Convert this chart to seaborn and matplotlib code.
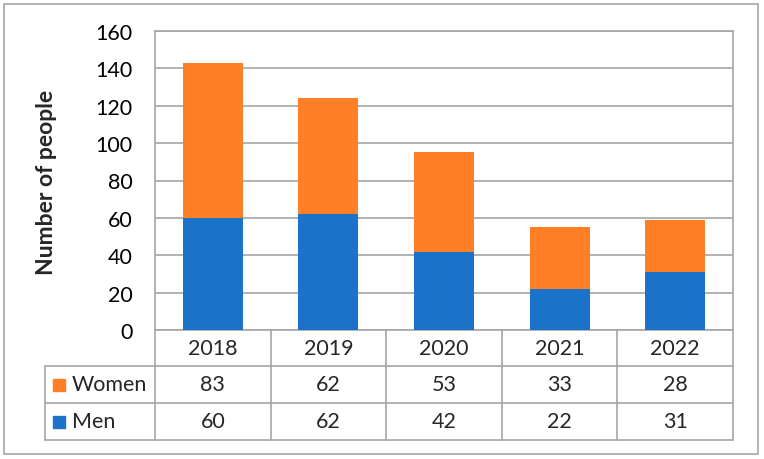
''' Stacked bar chart of men / women per year with a data table below '''
import matplotlib.pyplot as plt
import matplotlib.transforms as mtransforms
from matplotlib.lines import Line2D
from matplotlib.patches import Rectangle
import pandas as pd
import seaborn as sns

#%% Data
years = ['2018', '2019', '2020', '2021', '2022']
women = [83, 62, 53, 33, 28]
men = [60, 62, 42, 22, 31]

ORANGE = '#FF7F27'
BLUE = '#1A73C9'
LINE = '#A6A6A6'
FS = 15.5

W, H = 764, 460

sns.set_style('white')
plt.rcParams['font.family'] = ['Lato', 'DejaVu Sans']

df = pd.DataFrame({'year': years, 'Women': women, 'Men': men})
df['total'] = df['Women'] + df['Men']

#%% Plot
fig = plt.figure(figsize=(W / 100, H / 100), dpi=100)
ax = fig.add_axes([155 / W, 1 - 331 / H, (733 - 155) / W, (331 - 32) / H])

# women drawn as the total, men on top of it -> stacked look
sns.barplot(data=df, x='year', y='total', color=ORANGE, width=0.52,
            saturation=1, errorbar=None, ax=ax, zorder=3, linewidth=0)
sns.barplot(data=df, x='year', y='Men', color=BLUE, width=0.52,
            saturation=1, errorbar=None, ax=ax, zorder=3, linewidth=0)

ax.set_ylim(0, 160)
ax.set_xlim(-0.5, len(years) - 0.5)
ax.set_yticks(range(0, 161, 20))
ax.yaxis.grid(True, color=LINE, linewidth=1.2, zorder=0)
ax.set_axisbelow(True)
ax.tick_params(axis='y', length=0, pad=16, labelsize=FS, labelcolor='black')
ax.set_xticks([])
ax.set_xlabel('')
ax.set_ylabel('')
for side in ['left', 'right', 'top', 'bottom']:
    ax.spines[side].set_visible(True)
    ax.spines[side].set_color(LINE)
    ax.spines[side].set_linewidth(1.2)

fig.text(47 / W, 1 - 182 / H, 'Number of people', rotation=90,
         ha='center', va='center', fontsize=16.5, fontweight='bold')

#%% Data table below the axes
trans = mtransforms.blended_transform_factory(ax.transData, fig.transFigure)
fy = lambda py: 1 - py / H
fx = lambda px: px / W

rows_y = [331, 367, 404, 441]
# vertical separators between categories
for i in range(len(years) + 1):
    fig.add_artist(Line2D([i - 0.5, i - 0.5], [fy(331), fy(441)],
                          transform=trans, color=LINE, lw=1.2))
# left column of the label cells
fig.add_artist(Line2D([fx(45), fx(45)], [fy(367), fy(441)],
                      transform=fig.transFigure, color=LINE, lw=1.2))
for py in rows_y[1:]:
    fig.add_artist(Line2D([fx(45), fx(733)], [fy(py), fy(py)],
                          transform=fig.transFigure, color=LINE, lw=1.2))

for i, yr in enumerate(years):
    fig.text(i, fy(349), yr, transform=trans, ha='center', va='center', fontsize=FS)
    fig.text(i, fy(385.5), str(women[i]), transform=trans, ha='center', va='center', fontsize=FS)
    fig.text(i, fy(422.5), str(men[i]), transform=trans, ha='center', va='center', fontsize=FS)

for label, color, cy in [('Women', ORANGE, 385.5), ('Men', BLUE, 422.5)]:
    fig.add_artist(Rectangle((fx(53), fy(cy + 6)), 12 / W, 12 / H,
                             transform=fig.transFigure, color=color))
    fig.text(fx(72), fy(cy), label, ha='left', va='center', fontsize=FS)

# outer chart border
fig.add_artist(Rectangle((fx(4), fy(455)), (758 - 4) / W, (455 - 5) / H,
                         transform=fig.transFigure, fill=False,
                         edgecolor=LINE, lw=1.2))

fig.savefig('out.png', dpi=100)
